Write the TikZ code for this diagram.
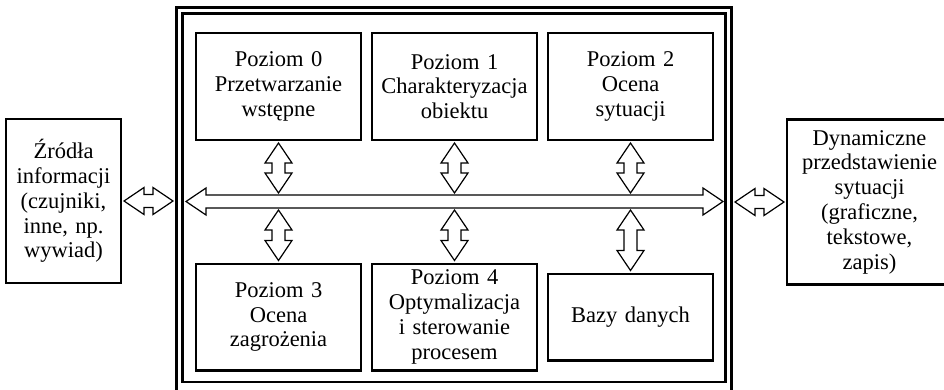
\documentclass[tikz,border=0pt]{standalone}
\usepackage{fontspec}
\setmainfont{Liberation Serif}
\usetikzlibrary{calc,positioning}

\begin{document}
\begin{tikzpicture}[x=1pt,y=1pt,node distance=9pt]
\tikzstyle{lvl}=[draw,line width=2.4pt,minimum width=164.6pt,minimum height=106.6pt,align=center,text width=155pt,font=\fontsize{22.5}{24.8}\selectfont]
\tikzstyle{ext}=[lvl,minimum height=165pt]
\tikzstyle{frame}=[draw,line width=2.6pt]
\tikzstyle{blk}=[draw,line width=1.2pt,fill=white,to path={($(\tikztostart)!2pt!(\tikztotarget)$)
  -- ($(\tikztostart)!22pt!(\tikztotarget)!13.5pt!90:(\tikztotarget)$)
  -- ($(\tikztostart)!22pt!(\tikztotarget)!6.5pt!90:(\tikztotarget)$)
  -- ($(\tikztotarget)!22pt!(\tikztostart)!6.5pt!-90:(\tikztostart)$)
  -- ($(\tikztotarget)!22pt!(\tikztostart)!13.5pt!-90:(\tikztostart)$)
  -- ($(\tikztotarget)!2pt!(\tikztostart)$)
  -- ($(\tikztotarget)!22pt!(\tikztostart)!13.5pt!90:(\tikztostart)$)
  -- ($(\tikztotarget)!22pt!(\tikztostart)!6.5pt!90:(\tikztostart)$)
  -- ($(\tikztostart)!22pt!(\tikztotarget)!6.5pt!-90:(\tikztotarget)$)
  -- ($(\tikztostart)!22pt!(\tikztotarget)!13.5pt!-90:(\tikztotarget)$)
  -- cycle}]
\useasboundingbox (0,0) rectangle (944,-389);
\node[frame,minimum width=555.4pt,minimum height=384.7pt] (SYS) at (454,-199.65) {};
\node[frame,minimum width=543pt,minimum height=368.5pt] (IN) at (454,-197.75) {};
\node[lvl] (L0) at (278.5,-86.5) {Poziom 0\\Przetwarzanie\\wstępne};
\node[lvl,right=of L0] (L1) {Poziom 1\\Charakteryzacja\\obiektu};
\node[lvl,right=of L1] (L2) {Poziom 2\\Ocena\\sytuacji};
\node[lvl] (L3) at (278.5,-317) {Poziom 3\\Ocena\\zagrożenia};
\node[lvl,right=of L3] (L4) {Poziom 4\\Optymalizacja\\i sterowanie\\procesem};
\node[lvl,right=of L4,minimum height=86.6pt] (DB) {Bazy danych};
\node[ext,minimum width=114.6pt,text width=105pt,minimum height=163.6pt] (SRC) at (63.5,-201)
  {Źródła\\informacji\\(czujniki,\\inne, np.\\wywiad)};
\node[ext] (OUT) at (869.5,-202)
  {Dynamiczne\\przedstawienie\\sytuacji\\(graficzne,\\tekstowe,\\zapis)};
% szyna danych
\coordinate (busL) at (184,-201.5);
\coordinate (busR) at (725,-201.5);
\coordinate (busT) at (454,-195);
\coordinate (busB) at (454,-208);
\draw[blk] (busL) to (busR);
\foreach \n in {L0,L1,L2}
  \draw[blk] (\n.south) to (\n.south |- busT);
\foreach \n in {L3,L4,DB}
  \draw[blk] (\n.north |- busB) to (\n.north);
\draw[blk] (SRC.east) to (SYS.west |- SRC.east);
\draw[blk] (SYS.east |- OUT.west) to (OUT.west);
\end{tikzpicture}
\end{document}
